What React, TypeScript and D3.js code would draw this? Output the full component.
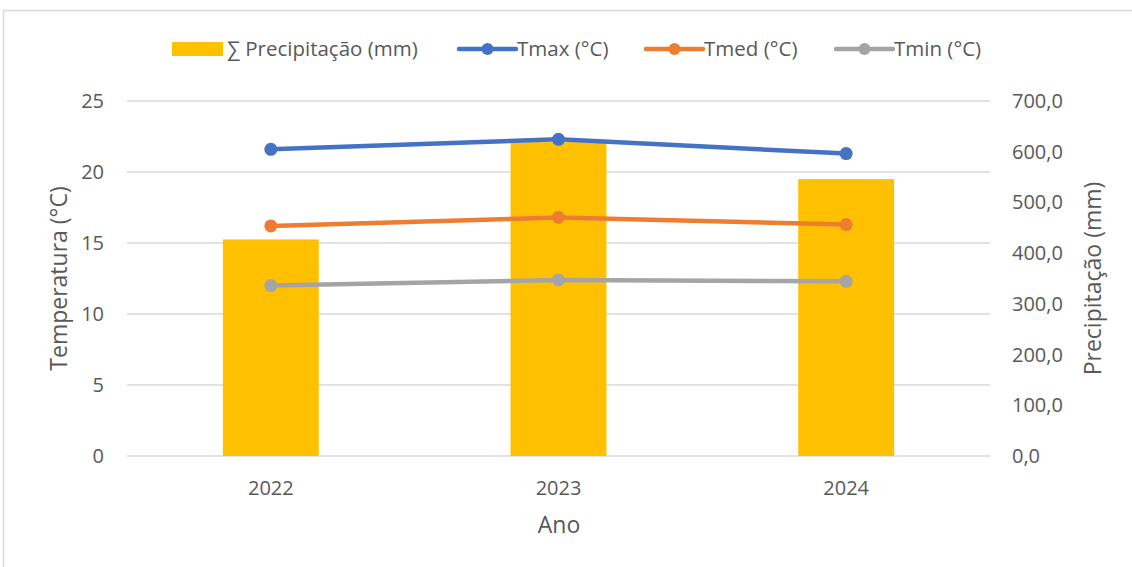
import { useMemo } from 'react';
import * as d3 from 'd3';

const years = ['2022', '2023', '2024'];
const precipitation = [427, 619, 546];
const tmax = [21.6, 22.3, 21.3];
const tmed = [16.2, 16.8, 16.3];
const tmin = [12.0, 12.4, 12.3];
const tempTicks = [0, 5, 10, 15, 20, 25];
const precTicks = [0, 100, 200, 300, 400, 500, 600, 700];

const FONT = "'Open Sans', 'Noto Sans', sans-serif";
const TEXT = '#595959';

const lineSeries = [
    { name: 'Tmax (°C)', values: tmax, color: '#4472C4' },
    { name: 'Tmed (°C)', values: tmed, color: '#ED7D31' },
    { name: 'Tmin (°C)', values: tmin, color: '#A5A5A5' },
];

const App: React.FC = () => {
    const W = 1132, H = 567;
    const margin = { left: 127, right: 142, top: 101, bottom: 111 };
    const plotW = W - margin.left - margin.right;
    const plotH = H - margin.top - margin.bottom;

    const x = useMemo(() => d3.scaleBand().domain(years).range([0, plotW]).paddingInner(0).paddingOuter(0), [plotW]);
    const yT = useMemo(() => d3.scaleLinear().domain([0, 25]).range([plotH, 0]), [plotH]);
    const yP = useMemo(() => d3.scaleLinear().domain([0, 700]).range([plotH, 0]), [plotH]);
    const barW = x.bandwidth() / 3;
    const cx = (y: string) => (x(y) || 0) + x.bandwidth() / 2;

    const line = d3.line<number>().x((_, i) => cx(years[i])).y(d => yT(d));

    return (
        <svg width={W} height={H} style={{ position: 'absolute', left: 0, top: 0, fontFamily: FONT }}>
            <rect x={0} y={0} width={W} height={H} fill="#fff" />
            <rect x={3.5} y={10.5} width={W + 10} height={H + 10} fill="none" stroke="#d9d9d9" strokeWidth={1.5} />

            {/* legend */}
            <g transform="translate(0,49)">
                <rect x={172} y={-7} width={51} height={14} fill="#FFC000" />
                <text x={227} y={0} dy="0.35em" fontSize={20.5} fill={TEXT}>∑ Precipitação (mm)</text>
                {lineSeries.map((s, i) => {
                    const lx = [459, 646, 836][i];
                    return (
                        <g key={s.name}>
                            <line x1={lx} x2={lx + 57} y1={0} y2={0} stroke={s.color} strokeWidth={4.5} strokeLinecap="round" />
                            <circle cx={lx + 28.5} cy={0} r={6} fill={s.color} />
                            <text x={lx + 58} y={0} dy="0.35em" fontSize={20.5} fill={TEXT}>{s.name}</text>
                        </g>
                    );
                })}
            </g>

            <g transform={`translate(${margin.left},${margin.top})`}>
                {tempTicks.map(t => (
                    <line key={t} x1={0} x2={plotW} y1={yT(t)} y2={yT(t)} stroke="#d9d9d9" strokeWidth={1.5} />
                ))}
                {tempTicks.map(t => (
                    <text key={t} x={-23} y={yT(t)} dy="0.35em" textAnchor="end" fontSize={20} fill={TEXT}>{t}</text>
                ))}
                {precTicks.map(t => (
                    <text key={t} x={plotW + 22} y={yP(t)} dy="0.35em" textAnchor="start" fontSize={20} fill={TEXT}>
                        {d3.format('.1f')(t).replace('.', ',')}
                    </text>
                ))}
                {years.map((y, i) => (
                    <rect key={y} x={cx(y) - barW / 2} y={yP(precipitation[i])} width={barW} height={plotH - yP(precipitation[i])} fill="#FFC000" />
                ))}
                {years.map(y => (
                    <text key={y} x={cx(y)} y={plotH + 32} dy="0.35em" textAnchor="middle" fontSize={20} fill={TEXT}>{y}</text>
                ))}
                {lineSeries.map(s => (
                    <g key={s.name}>
                        <path d={line(s.values) || ''} fill="none" stroke={s.color} strokeWidth={4.5} strokeLinejoin="round" />
                        {s.values.map((v, i) => (
                            <circle key={i} cx={cx(years[i])} cy={yT(v)} r={6.5} fill={s.color} />
                        ))}
                    </g>
                ))}
            </g>

            <text x={559} y={525} dy="0.35em" textAnchor="middle" fontSize={23} fill={TEXT}>Ano</text>
            <text transform={`translate(59,${margin.top + plotH / 2}) rotate(-90)`} dy="0.35em" textAnchor="middle" fontSize={23} fill={TEXT}>Temperatura (°C)</text>
            <text transform={`translate(1093,${margin.top + plotH / 2}) rotate(-90)`} dy="0.35em" textAnchor="middle" fontSize={23} fill={TEXT}>Precipitação (mm)</text>
        </svg>
    );
};

export default App;
